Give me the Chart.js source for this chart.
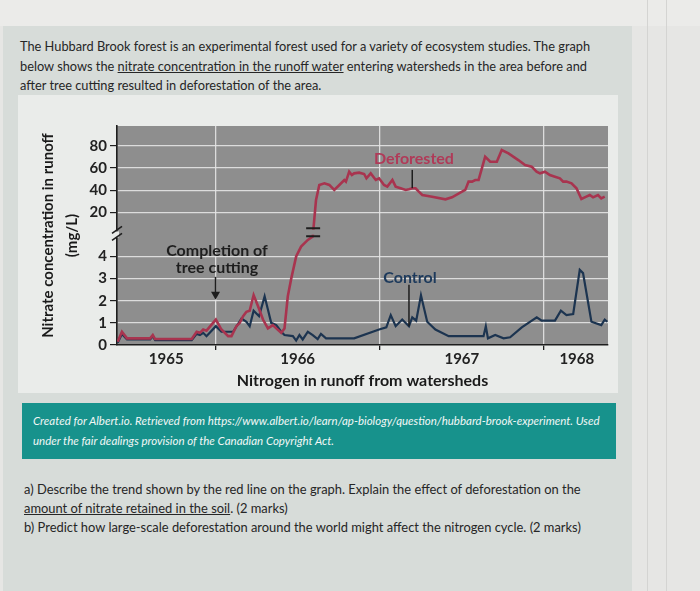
<!DOCTYPE html>
<html><head><meta charset="utf-8">
<script src="https://cdn.jsdelivr.net/npm/chart.js@4.4.1/dist/chart.umd.min.js"></script>
<style>
html,body{margin:0;padding:0}
body{width:700px;height:591px;overflow:hidden;position:relative;background:#e6e6e4;font-family:Lato,'Open Sans',sans-serif;color:#262626}
.abs{position:absolute}
#top{left:0;top:0;width:700px;height:26px;background:#ebebe9}
#panel{left:3px;top:26px;width:629px;height:565px;background:#d7dcd9}
#card{left:18px;top:95px;width:600px;height:298px;background:#eaecea}
#wrap{left:20px;top:96px;width:600px;height:296px}
#intro{left:20px;top:37px;font-size:12.8px;line-height:19.5px;white-space:nowrap;margin:0}
#teal{left:22px;top:403px;width:594px;height:56px;background:#17928c}
#credit{left:33px;top:411px;font-size:11.5px;line-height:20px;font-style:italic;color:#f2f7f6;white-space:nowrap}
#q{left:24px;top:480px;font-size:12.9px;line-height:19px;white-space:nowrap}
.vl{top:0;width:1px;height:591px;background:#d4d4d2}
</style></head>
<body>
<div id="top" class="abs"></div>
<div id="panel" class="abs"></div>
<div class="abs vl" style="left:647px"></div>
<div class="abs vl" style="left:666px"></div>
<div id="card" class="abs"></div>
<p id="intro" class="abs">The Hubbard Brook forest is an experimental forest used for a variety of ecosystem studies. The graph<br>below shows the <u>nitrate concentration in the runoff water</u> entering watersheds in the area before and<br>after tree cutting resulted in deforestation of the area.</p>
<div id="wrap" class="abs"><canvas id="c" width="600" height="296"></canvas></div>
<div id="teal" class="abs"></div>
<div id="credit" class="abs">Created for Albert.io. Retrieved from https://www.albert.io/learn/ap-biology/question/hubbard-brook-experiment. Used<br>under the fair dealings provision of the Canadian Copyright Act.</div>
<div id="q" class="abs">a) Describe the trend shown by the red line on the graph. Explain the effect of deforestation on the<br><u>amount of nitrate retained in the soil</u>. (2 marks)<br>b) Predict how large-scale deforestation around the world might affect the nitrogen cycle. (2 marks)</div>
<script>
// ---- data (years as decimal years, nitrate in mg/L) ----
const redYears=[1965.404,1965.430,1965.461,1965.602,1965.618,1965.632,1965.855,1965.885,1965.905,1965.925,1965.945,
1966.002,1966.036,1966.077,1966.097,1966.127,1966.147,1966.168,1966.188,1966.208,1966.232,1966.259,1966.289,1966.319,1966.349,1966.370,1966.400,1966.420,1966.440,1966.461,1966.491,1966.521,1966.562,1966.592,
1966.612,1966.632,1966.663,1966.693,1966.723,1966.754,1966.784,1966.794,1966.814,1966.830,1966.844,1966.875,1966.905,1966.919,1966.945,1966.976,1966.996,
1967.026,1967.046,1967.077,1967.097,1967.127,1967.158,1967.178,1967.198,1967.218,1967.238,1967.259,1967.319,1967.400,1967.440,1967.501,1967.521,1967.541,1967.562,1967.582,1967.602,1967.642,1967.673,1967.713,1967.743,1967.784,1967.844,1967.885,1967.925,1967.955,1967.976,
1968.006,1968.036,1968.067,1968.097,1968.117,1968.137,1968.168,1968.198,1968.228,1968.258,1968.279,1968.299,1968.329,1968.349,1968.370];
const redValues=[0.15,0.6,0.3,0.3,0.45,0.27,0.27,0.6,0.55,0.7,0.65,
1.15,0.7,0.4,0.4,0.85,1.0,1.3,1.5,1.55,2.25,1.75,1.15,0.75,0.9,0.75,0.55,0.75,2.2,3.0,4.0,4.45,4.75,4.9,
31.1,44.7,46.2,44.7,40.2,44.7,49.2,47.7,56.7,53.7,55.2,55.8,54.6,50.7,55.2,49.2,50.7,
44.7,43.2,49.2,43.2,41.7,40.2,40.8,41.7,41.7,38.6,35.6,34.1,31.7,33.5,38.6,40.2,47.7,47.7,49.2,49.2,70.2,65.7,65.7,76.2,73.2,67.2,62.7,61.2,56.7,55.2,
56.7,53.7,52.2,50.7,47.7,47.7,46.2,41.7,32.0,34.1,35.6,33.5,35.6,32.6,34.1];
const ctrlYears=[1965.404,1965.430,1965.461,1965.602,1965.618,1965.632,1965.855,1965.885,1965.905,1965.925,1965.945,
1966.002,1966.036,1966.107,1966.158,1966.188,1966.208,1966.232,1966.265,1966.299,1966.319,1966.339,1966.370,1966.400,1966.420,1966.471,1966.491,1966.511,1966.531,1966.562,1966.592,1966.622,1966.642,1966.673,1966.844,1966.996,
1967.040,1967.067,1967.097,1967.137,1967.178,1967.198,1967.222,1967.251,1967.289,1967.339,1967.420,1967.632,1967.646,1967.659,1967.703,1967.754,1967.794,1967.865,1967.956,1967.986,
1968.067,1968.103,1968.137,1968.178,1968.218,1968.238,1968.289,1968.349,1968.370,1968.386];
const ctrlValues=[0.1,0.5,0.25,0.25,0.4,0.22,0.22,0.5,0.45,0.55,0.4,
0.85,0.6,0.6,1.2,1.05,0.85,1.55,1.3,2.2,1.6,1.0,0.9,0.6,0.45,0.4,0.2,0.45,0.25,0.6,0.45,0.27,0.5,0.3,0.3,0.7,
0.8,1.35,0.85,1.15,0.85,1.25,1.1,2.25,1.05,0.7,0.4,0.4,0.85,0.3,0.45,0.3,0.35,0.8,1.25,1.1,
1.1,1.55,1.35,1.4,3.4,3.25,1.05,0.9,1.15,1.05];
const yTickValues=[0,1,2,3,4,20,40,60,80];
const yearLabels=['1965','1966','1967','1968'];
const yearLabelAt=[1965.7,1966.5,1967.5,1968.2];
const yearBoundaries=[1966,1967,1968];

// ---- broken axis mapping: 0-5 linear, above the break 20 mg/L per unit ----
const BREAK=5;
function toDisplay(v){return v<=BREAK ? v : BREAK + v/20;}

const RED='#a8344f', BLUE='#1c3450', PLOT_BG='#8e8e8e', GRID='rgba(228,228,228,0.9)', CARD='#eaecea', INK='#1e1e1e';
Chart.defaults.font.family='Lato';

const near=(a,b)=>Math.abs(a-b)<1e-6;
const isBoundary=t=>t && yearBoundaries.some(b=>near(b,t.value));

const bgPlugin={id:'bg',beforeDraw(ch){const {ctx,chartArea:a}=ch;ctx.save();ctx.fillStyle=PLOT_BG;ctx.fillRect(a.left,a.top,a.right-a.left,a.bottom-a.top);ctx.restore();}};

const notes=[
 {lines:['Deforested'],x:1967.208,y:68.2,color:'#b03a58',leader:{x:1967.198,from:58.3,to:41.8}},
 {lines:['Control'],x:1967.184,y:3.04,color:'#1d3a5c',leader:{x:1967.178,from:2.72,to:0.85}},
 {lines:['Completion of','tree cutting'],x:1966.009,y:4.26,color:INK,arrow:{x:1966.0,from:3.08,to:2.05}}
];

const overlay={id:'overlay',afterDraw(ch){
 const {ctx,chartArea:a}=ch; const xs=ch.scales.x, ys=ch.scales.y;
 const py=v=>ys.getPixelForValue(toDisplay(v));
 ctx.save();
 // y-axis break
 const yb=ys.getPixelForValue(BREAK), xa=a.left;
 ctx.fillStyle=CARD; ctx.fillRect(xa-2,yb-3,4,6);
 ctx.strokeStyle=INK; ctx.lineWidth=1.6;
 ctx.beginPath(); ctx.moveTo(xa-5,yb-1); ctx.lineTo(xa+5,yb-8); ctx.moveTo(xa-5,yb+6); ctx.lineTo(xa+5,yb-1); ctx.stroke();
 // break on the deforested line
 for(let i=0;i<redValues.length-1;i++){
  if(redValues[i]<=BREAK && redValues[i+1]>BREAK){
   const x0=xs.getPixelForValue(redYears[i]), x1=xs.getPixelForValue(redYears[i+1]);
   const d0=toDisplay(redValues[i]), d1=toDisplay(redValues[i+1]);
   const yTop=ys.getPixelForValue(5.28), yBot=ys.getPixelForValue(4.92);
   const t=(5.1-d0)/(d1-d0); const xc=x0+(x1-x0)*t;
   ctx.fillStyle=PLOT_BG; ctx.fillRect(xc-5,yTop+1.5,10,yBot-yTop-3);
   ctx.strokeStyle=INK; ctx.lineWidth=2;
   ctx.beginPath(); ctx.moveTo(xc-7,yTop); ctx.lineTo(xc+7,yTop); ctx.moveTo(xc-7,yBot); ctx.lineTo(xc+7,yBot); ctx.stroke();
  }
 }
 // annotations
 ctx.font='bold 16px Lato'; ctx.textAlign='center'; ctx.textBaseline='middle';
 notes.forEach(n=>{
  const x=xs.getPixelForValue(n.x), y=ys.getPixelForValue(toDisplay(n.y));
  ctx.fillStyle=n.color;
  n.lines.forEach((l,k)=>ctx.fillText(l,x,y+k*17));
  ctx.strokeStyle=INK; ctx.lineWidth=1.5;
  if(n.leader){const lx=xs.getPixelForValue(n.leader.x);ctx.beginPath();ctx.moveTo(lx,py(n.leader.from));ctx.lineTo(lx,py(n.leader.to));ctx.stroke();}
  if(n.arrow){const lx=xs.getPixelForValue(n.arrow.x), y0=py(n.arrow.from), y1=py(n.arrow.to);
   ctx.beginPath();ctx.moveTo(lx,y0);ctx.lineTo(lx,y1-4);ctx.stroke();
   ctx.fillStyle=INK;ctx.beginPath();ctx.moveTo(lx-4.5,y1-8);ctx.lineTo(lx+4.5,y1-8);ctx.lineTo(lx,y1);ctx.closePath();ctx.fill();}
 });
 ctx.restore();
}};

new Chart(document.getElementById('c'),{
 type:'line',
 data:{datasets:[
  {label:'Deforested',data:redYears.map((x,i)=>({x,y:toDisplay(redValues[i])})),borderColor:RED,borderWidth:2.6,pointRadius:0,tension:0},
  {label:'Control',data:ctrlYears.map((x,i)=>({x,y:toDisplay(ctrlValues[i])})),borderColor:BLUE,borderWidth:2.2,pointRadius:0,tension:0}
 ]},
 options:{
  responsive:false,animation:false,devicePixelRatio:1,
  layout:{padding:{top:30,right:12,left:0,bottom:0}},
  plugins:{legend:{display:false},tooltip:{enabled:false}},
  scales:{
   x:{type:'linear',min:1965.4,max:1968.39,
    afterBuildTicks:s=>{s.ticks=[...yearBoundaries,...yearLabelAt].sort((a,b)=>a-b).map(v=>({value:v}));},
    afterFit:s=>{s.height=47;},
    ticks:{autoSkip:false,maxRotation:0,padding:0,color:'#222',font:{size:15,weight:'bold'},
      callback:v=>{const i=yearLabelAt.findIndex(p=>near(p,v));return i>=0?yearLabels[i]:'';}},
    grid:{color:c=>isBoundary(c.tick)?GRID:'rgba(0,0,0,0)',tickColor:c=>isBoundary(c.tick)?INK:'rgba(0,0,0,0)',tickLength:5,lineWidth:1.3},
    border:{color:INK,width:1.6},
    title:{display:true,text:'Nitrogen in runoff from watersheds',color:'#1a1a1a',font:{size:16,weight:'bold'},padding:{top:0,bottom:2}}
   },
   y:{min:0,max:9.9,
    afterBuildTicks:s=>{s.ticks=yTickValues.map(v=>({value:toDisplay(v)}));},
    afterFit:s=>{s.width=97;},
    ticks:{padding:3,color:'#222',font:{size:15,weight:'bold'},
      callback:v=>{const i=yTickValues.findIndex(t=>near(toDisplay(t),v));return i>=0?String(yTickValues[i]):'';}},
    grid:{color:GRID,tickColor:INK,tickLength:7,lineWidth:1.2},
    border:{color:INK,width:1.6},
    title:{display:true,text:['Nitrate concentration in runoff','(mg/L)'],color:'#1a1a1a',font:{size:15,weight:'bold',lineHeight:1.6},padding:{top:16,bottom:0}}
   }
  }
 },
 plugins:[bgPlugin,overlay]
});
</script>
</body></html>
